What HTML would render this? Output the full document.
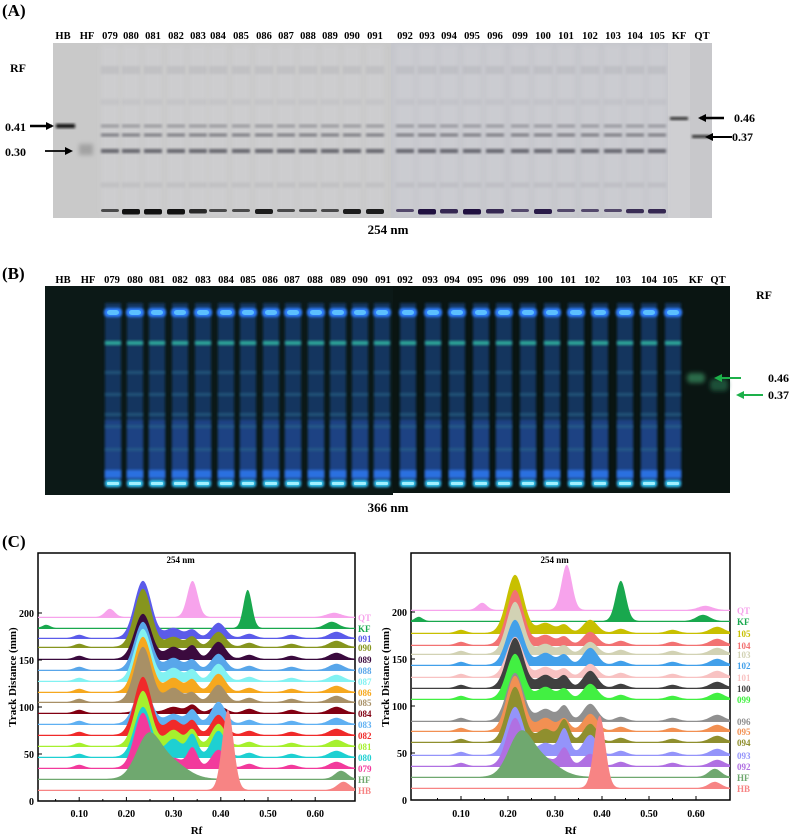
<!DOCTYPE html>
<html><head><meta charset="utf-8">
<style>
html,body{margin:0;padding:0;background:#fff;}
svg{display:block;}
text{font-family:"Liberation Serif",serif;font-weight:bold;}
</style></head>
<body>
<svg id="s" width="791" height="837" viewBox="0 0 791 837" xmlns="http://www.w3.org/2000/svg">
<defs>
<filter id="b1" x="-50%" y="-50%" width="200%" height="200%"><feGaussianBlur stdDeviation="1.2"/></filter>
<filter id="b2" x="-50%" y="-50%" width="200%" height="200%"><feGaussianBlur stdDeviation="2"/></filter>
<clipPath id="cl"><rect x="38" y="553" width="317" height="248"/></clipPath>
<clipPath id="cr"><rect x="411" y="553" width="319" height="247"/></clipPath>
<marker id="ak" markerWidth="8" markerHeight="8" refX="6" refY="4" orient="auto" markerUnits="userSpaceOnUse"><path d="M0,0 L8,4 L0,8 z" fill="#000"/></marker>
<marker id="ag" markerWidth="8" markerHeight="8" refX="6" refY="4" orient="auto" markerUnits="userSpaceOnUse"><path d="M0,0 L8,4 L0,8 z" fill="#1db04a"/></marker>
</defs>
<text x="2" y="16" font-size="17">(A)</text>
<text x="2" y="279" font-size="17">(B)</text>
<text x="2" y="547" font-size="17">(C)</text>
<g id="A"></g><g id="B"></g><g id="C"></g>
</svg>
<script>
var NS="http://www.w3.org/2000/svg";
function el(p,t,a,txt){var e=document.createElementNS(NS,t);for(var k in a)e.setAttribute(k,a[k]);if(txt!==undefined)e.textContent=txt;p.appendChild(e);return e;}
var A=document.getElementById("A"),B=document.getElementById("B"),C=document.getElementById("C");
// ---------- Panel A
el(A,"rect",{x:53,y:43,width:338,height:175,fill:"#c9c9c9"});
el(A,"rect",{x:391,y:43,width:277,height:175,fill:"#c5c6cc"});
el(A,"rect",{x:668,y:43,width:22,height:175,fill:"#cfcfd2"});
el(A,"rect",{x:690,y:43,width:22,height:175,fill:"#c8c8cb"});
var labA=[["HB",63],["HF",87],["079",110],["080",131],["081",153],["082",176],["083",198],["084",218],["085",241],["086",264],["087",286],["088",308],["089",330],["090",352],["091",375],["092",405],["093",427],["094",449],["095",472],["096",495],["099",520],["100",543],["101",566],["102",590],["103",613],["104",635],["105",657],["KF",679],["QT",702]];
labA.forEach(function(l,i){
 el(A,"text",{x:l[1],y:39,"font-size":10.5,"text-anchor":"middle"},l[0]);
 var x=l[1];
 if(i>=2&&i<=26){
  el(A,"rect",{x:x-9,y:45,width:18,height:170,fill:"#d2d2d6",opacity:0.5,filter:"url(#b2)"});
  [[126,0.35,3],[135,0.55,3],[151,0.7,4],[185,0.08,5],[70,0.08,8],[102,0.05,6]].forEach(function(b){
   el(A,"rect",{x:x-9,y:b[0]-b[2]/2,width:18,height:b[2],fill:"#3a3a44",opacity:b[1],filter:"url(#b1)"});});
  var big=[0,1,1,1,0.6,0,0,0.8,0,0,0,0.8,0.8,0,1,0.6,1,0.6,0,0.8,0,0,0,0.5,0.6][i-2];
  var col=i>=15?"#201040":"#111";
  el(A,"rect",{x:x-9,y:209,width:18,height:3+big*2.5,rx:2,fill:col,opacity:0.7+big*0.3});
 }
});
el(A,"rect",{x:56,y:124,width:19,height:4,fill:"#111",filter:"url(#b1)"});
el(A,"rect",{x:79,y:144,width:14,height:11,fill:"#888",opacity:0.6,filter:"url(#b2)"});
el(A,"rect",{x:670,y:117,width:18,height:3,fill:"#333",filter:"url(#b1)"});
el(A,"rect",{x:692,y:135,width:18,height:3,fill:"#333",filter:"url(#b1)"});
el(A,"text",{x:10,y:72,"font-size":12},"RF");
el(A,"text",{x:5,y:131,"font-size":12},"0.41");
el(A,"line",{x1:30,y1:126,x2:52,y2:126,stroke:"#000","stroke-width":2.5,"marker-end":"url(#ak)"});
el(A,"text",{x:5,y:156,"font-size":12},"0.30");
el(A,"line",{x1:45,y1:151,x2:71,y2:151,stroke:"#000","stroke-width":1.8,"marker-end":"url(#ak)"});
el(A,"line",{x1:724,y1:118,x2:700,y2:118,stroke:"#000","stroke-width":2.5,"marker-end":"url(#ak)"});
el(A,"text",{x:734,y:122,"font-size":12},"0.46");
el(A,"line",{x1:732,y1:137,x2:707,y2:137,stroke:"#000","stroke-width":2,"marker-end":"url(#ak)"});
el(A,"text",{x:732,y:141,"font-size":12},"0.37");
el(A,"text",{x:388,y:234,"font-size":13,"text-anchor":"middle"},"254 nm");
// ---------- Panel B
el(B,"rect",{x:45,y:286,width:348,height:209,fill:"#0c1917"});
el(B,"rect",{x:393,y:286,width:337,height:207,fill:"#0a1512"});
var labB=[["HB",63],["HF",88],["079",112],["080",135],["081",157],["082",180],["083",203],["084",226],["085",248],["086",270],["087",292],["088",315],["089",338],["090",360],["091",383],["092",405],["093",430],["094",452],["095",475],["096",498],["099",521],["100",545],["101",568],["102",592],["103",623],["104",649],["105",670],["KF",696],["QT",718]];
var lanB=[113,135,157,180,203,226,248,271,293,316,338,360,382,408,433,457,481,504,528,552,576,600,625,649,673];
labB.forEach(function(l){el(B,"text",{x:l[1],y:283,"font-size":10.5,"text-anchor":"middle"},l[0]);});
lanB.forEach(function(x,i){
 var g=el(B,"g",{});
 el(g,"rect",{x:x-8,y:303,width:16,height:184,fill:"#183a6c",opacity:0.85,filter:"url(#b1)"});
 el(g,"rect",{x:x-8,y:420,width:16,height:62,fill:"#2550a8",opacity:0.5,filter:"url(#b1)"});
 el(g,"rect",{x:x-9,y:308,width:18,height:9,rx:4,fill:"#2d7fff",filter:"url(#b1)"});
 el(g,"rect",{x:x-6,y:310,width:12,height:5,rx:3,fill:"#5cc0ff"});
 el(g,"rect",{x:x-8,y:341,width:16,height:4,fill:"#2fa99a",filter:"url(#b1)"});
 [371,393,413,425,448].forEach(function(y){el(g,"rect",{x:x-8,y:y,width:16,height:3,fill:"#2a6a8a",opacity:0.6,filter:"url(#b1)"});});
 el(g,"rect",{x:x-8,y:470,width:16,height:8,fill:"#2a70e0",filter:"url(#b1)"});
 el(g,"rect",{x:x-8,y:480,width:16,height:7,rx:3,fill:"#30c8f0",filter:"url(#b1)"});
 el(g,"rect",{x:x-6,y:482,width:12,height:3,rx:1,fill:"#a0f0ff"});
});
el(B,"rect",{x:687,y:373,width:18,height:10,rx:4,fill:"#2c6a4a",filter:"url(#b2)"});
el(B,"rect",{x:710,y:379,width:18,height:12,rx:4,fill:"#1f5038",filter:"url(#b2)"});
el(B,"text",{x:756,y:299,"font-size":12},"RF");
el(B,"line",{x1:741,y1:378,x2:716,y2:378,stroke:"#1db04a","stroke-width":2,"marker-end":"url(#ag)"});
el(B,"text",{x:768,y:382,"font-size":12},"0.46");
el(B,"line",{x1:763,y1:395,x2:738,y2:395,stroke:"#1db04a","stroke-width":2,"marker-end":"url(#ag)"});
el(B,"text",{x:768,y:399,"font-size":12},"0.37");
el(B,"text",{x:388,y:512,"font-size":13,"text-anchor":"middle"},"366 nm");
// ---------- Panel C
function g(x,m,s){return Math.exp(-0.5*(x-m)*(x-m)/(s*s));}
function plot(o){
 var G=el(C,"g",{});
 el(G,"rect",{x:o.x0,y:553,width:o.w,height:o.h,fill:"#fff",stroke:"#000","stroke-width":1.5});
 el(G,"text",{x:o.x0+o.w/2-30,y:563,"font-size":9},"254 nm");
 var gc=el(G,"g",{"clip-path":o.clip});
 o.tr.forEach(function(t){
  var by=t[2],d="M"+o.x0+","+by;
  for(var px=o.x0;px<=o.x0+o.w;px+=1){
   var r=(px-o.z)/o.s,h=1.2;
   t[3].forEach(function(p){h+=p[1]*g(r,p[0],p[2]);});
   d+=" L"+px+","+(by-h).toFixed(1);
  }
  d+=" L"+(o.x0+o.w)+","+by+" Z";
  el(gc,"path",{d:d,fill:t[1]});
  el(G,"text",{x:o.lx,y:by+3,"font-size":9,fill:t[1]},t[0]);
 });
 [0,50,100,150,200].forEach(function(v){var y=o.y0-v*0.94;
  if(o.yl)el(G,"text",{x:o.x0-4,y:y+4,"font-size":10,"text-anchor":"end"},String(v));
  el(G,"line",{x1:o.x0,y1:y,x2:o.x0+4,y2:y,stroke:"#000"});});
 for(var k=1;k<=6;k++){var x=o.z+k*0.1*o.s;
  el(G,"text",{x:x,y:817,"font-size":10,"text-anchor":"middle"},"0."+k+"0");
  el(G,"line",{x1:x,y1:o.y0,x2:x,y2:o.y0-4,stroke:"#000"});
  el(G,"line",{x1:x-0.05*o.s,y1:o.y0,x2:x-0.05*o.s,y2:o.y0-2,stroke:"#000"});}
 el(G,"text",{x:o.x0+o.w/2,y:834,"font-size":11,"text-anchor":"middle"},"Rf");
 el(G,"text",{x:0,y:0,"font-size":11,"text-anchor":"middle",transform:"translate("+(o.x0-22)+",677) rotate(-90)"},"Track Distance (mm)");
}
function samp(a,b,c,d,m){m=m||0.235;return [[0.1,3,0.01],[m,a,0.018],[m+0.065,b,0.017],[m+0.105,c,0.011],[m+0.16,d,0.015],[m+0.225,4,0.012],[0.55,3,0.012],[0.645,6,0.015]];}
var L=[["QT","#f7a3ec",618,[[0.165,8,0.01],[0.34,36,0.011],[0.64,4,0.015]]],
["KF","#19a84e",629,[[0.03,3,0.008],[0.457,38,0.009],[0.635,6,0.014]]],
["091","#5b5bea",639,samp(57,10,8,15)],["090","#86951e",648,samp(58,10,10,15)],
["089","#3b0a3e",660,samp(45,12,13,17)],["088","#58a6ea",671,samp(48,12,10,16)],
["087","#82f2f2",682,samp(52,13,11,17)],["086","#f6a81e",693,samp(55,14,12,18)],
["085","#a89066",703,samp(55,14,9,17)],["084","#820012",714,samp(4,6,8,7)],
["083","#5fb0f2",725,samp(38,10,14,22)],["082","#f02a2a",736,samp(58,15,14,20)],
["081","#a6f02e",747,samp(55,16,16,22)],["080","#1ed0d2",758,samp(50,18,22,26)],
["079","#f23a9c",769,samp(55,10,20,18)],
["HF","#6fa86f",780,[[0.245,38,0.025],[0.29,18,0.035],[0.655,8,0.013]]],
["HB","#f78484",791,[[0.415,80,0.012],[0.66,8,0.013]]]];
plot({x0:38,w:317,h:248,y0:801,z:32,s:472,clip:"url(#cl)",lx:358,tr:L,yl:true});
function s2(a,b,c,d){return samp(a,b,c,d,0.215);}
var R=[["QT","#f7a3ec",611,[[0.145,7,0.01],[0.325,45,0.011],[0.62,4,0.015]]],
["KF","#19a84e",622,[[0.01,4,0.008],[0.44,40,0.011],[0.615,6,0.014]]],
["105","#c8c000",634,s2(58,10,8,13)],["104","#f27272",646,s2(55,10,8,13)],
["103","#d2d2b4",655,s2(52,10,8,12)],["102","#42a0ea",666,s2(45,12,10,17)],
["101","#f8c2c2",678,s2(40,10,8,13)],["100","#404040",689,s2(50,13,12,17)],
["099","#42f042",700,s2(45,12,10,15)],["096","#909090",722,s2(48,12,15,17)],
["095","#f29052",732,s2(55,13,12,17)],["094","#8f8f2e",743,s2(55,13,22,18)],
["093","#9494fa",756,s2(48,12,26,20)],["092","#b070e2",767,s2(48,8,18,12)],
["HF","#6fa86f",778,[[0.225,38,0.025],[0.27,18,0.035],[0.64,8,0.013]]],
["HB","#f78484",789,[[0.395,72,0.012],[0.64,6,0.013]]]];
plot({x0:411,w:319,h:247,y0:800,z:414,s:470,clip:"url(#cr)",lx:737,tr:R,yl:true});
</script>
</body></html>
